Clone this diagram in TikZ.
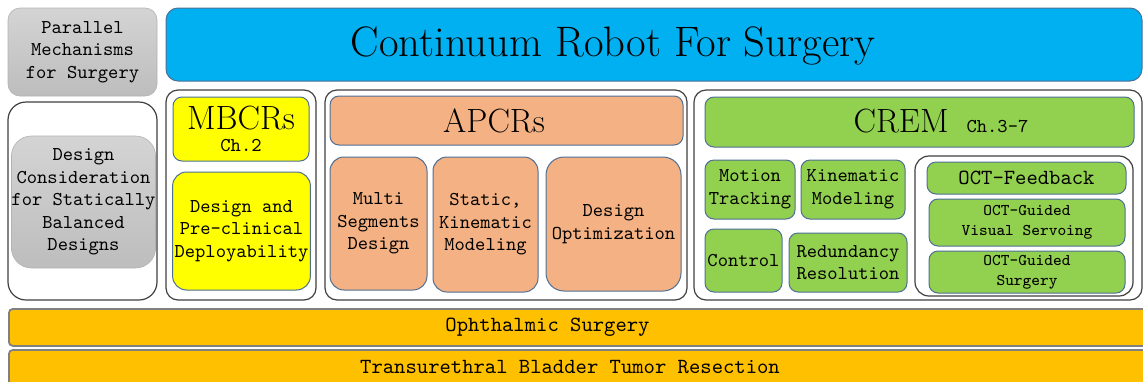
\documentclass[tikz,border=0pt]{standalone}
\usepackage{tikz}

\definecolor{skyblue}{HTML}{00B0F0}
\definecolor{mbyellow}{HTML}{FFFF00}
\definecolor{aporange}{HTML}{F4B183}
\definecolor{crgreen}{HTML}{92D050}
\definecolor{appgold}{HTML}{FFC000}
\definecolor{edgeblue}{HTML}{4E6F94}
\definecolor{framegray}{HTML}{404040}
\definecolor{greytop}{HTML}{D4D4D4}
\definecolor{greybot}{HTML}{BDBDBD}

\newcommand{\ttnorm}{\ttfamily\fontsize{9.8}{11.3}\selectfont}
\newcommand{\ttbar}{\ttfamily\fontsize{10.8}{13}\selectfont}
\newcommand{\ttsmall}{\ttfamily\fontsize{8.2}{10}\selectfont}
\newcommand{\rmbig}{\rmfamily\fontsize{16.8}{18}\selectfont}

\begin{document}
\begin{tikzpicture}[x=0.5pt, y=-0.5pt,
  every node/.style={font=\ttnorm, align=center, inner sep=1pt},
  box/.style={draw=edgeblue, line width=0.5pt, rounded corners=4.5pt},
  frame/.style={draw=framegray, line width=0.6pt, rounded corners=6pt, fill=white},
  greybox/.style={draw=gray!60, line width=0.3pt, top color=greytop, bottom color=greybot},
  bar/.style={draw=gray, line width=0.9pt, rounded corners=2pt, fill=appgold}]

  \useasboundingbox (0,0) rectangle (1143,381);
  \clip (0,0) rectangle (1143,381);

  % top row
  \node[greybox, rounded corners=6pt, minimum width=74.5pt, minimum height=44pt] (par) at (82.5,52) {Parallel\\Mechanisms\\for Surgery};
  \node[box, fill=skyblue, rounded corners=6pt, minimum width=488pt, minimum height=36.5pt] (ttl) at (654,44.5) {};
  \node[font=\rmfamily\fontsize{21.3}{25}\selectfont] (ttltxt) at (613,46) {Continuum Robot For Surgery};

  % left column
  \node[frame, rounded corners=9pt, minimum width=74.5pt, minimum height=99pt] (lfr) at (82.5,201) {};
  \node[greybox, rounded corners=10pt, inner xsep=0pt, minimum width=71pt, minimum height=66pt] (dcs) at (83.5,202) {Design\\Consideration\\for Statically\\Balanced\\Designs};

  % MBCRs
  \node[frame, minimum width=75pt, minimum height=105pt] (mfr) at (241,195) {};
  \node[box, fill=mbyellow, minimum width=68pt, minimum height=32pt] (mbc) at (241,129) {{\rmbig MBCRs}\\Ch.2};
  \node[box, fill=mbyellow, rounded corners=7pt, minimum width=68.5pt, minimum height=59pt] (mdp) at (241.5,231) {Design and\\Pre-clinical\\Deployability};

  % APCRs
  \node[frame, minimum width=181pt, minimum height=105pt] (afr) at (506,195) {};
  \node[box, fill=aporange, minimum width=176.5pt, minimum height=24.5pt] (apc) at (506.5,120.5) {};
  \node[font=\rmbig] (apctxt) at (494,121) {APCRs};
  \node[box, fill=aporange, rounded corners=7pt, minimum width=48.5pt, minimum height=66.5pt] (msd) at (378.5,223.5) {Multi\\Segments\\Design};
  \node[box, fill=aporange, rounded corners=7pt, minimum width=52.5pt, minimum height=67.5pt] (skm) at (485.5,224.5) {Static,\\Kinematic\\Modeling};
  \node[box, fill=aporange, rounded corners=9pt, minimum width=67.5pt, minimum height=67pt] (dop) at (613.5,224) {Design\\Optimization};

  % CREM
  \node[frame, minimum width=224pt, minimum height=105pt] (cfr) at (918,195) {};
  \node[box, fill=crgreen, minimum width=214.5pt, minimum height=25pt] (crm) at (919.5,122) {};
  \node (crmtxt) at (941,121) {{\rmbig CREM}\hspace{9pt}Ch.3-7};
  \node[box, fill=crgreen, minimum width=45pt, minimum height=29.5pt] (mtr) at (750,189.5) {Motion\\Tracking};
  \node[box, fill=crgreen, minimum width=52pt, minimum height=29.5pt] (kmd) at (853,189.5) {Kinematic\\Modeling};
  \node[box, fill=crgreen, minimum width=38.5pt, minimum height=31.5pt] (ctl) at (743.5,260.5) {Control};
  \node[box, fill=crgreen, minimum width=59pt, minimum height=29.5pt] (rdr) at (848,262.5) {Redundancy\\Resolution};

  % OCT group
  \node[frame, rounded corners=7pt, minimum width=109pt, minimum height=70pt] (ofr) at (1024,226) {};
  \node[box, fill=crgreen, font=\ttbar, minimum width=99.5pt, minimum height=16pt] (ofb) at (1026.5,178) {OCT-Feedback};
  \node[box, fill=crgreen, font=\ttsmall, minimum width=98pt, minimum height=23.5pt] (ovs) at (1027,222.5) {OCT-Guided\\Visual Servoing};
  \node[box, fill=crgreen, font=\ttsmall, minimum width=98pt, minimum height=21pt] (osu) at (1027,272) {OCT-Guided\\Surgery};

  % applications
  \node[bar, anchor=north west, minimum width=590pt, minimum height=18.5pt] (oph) at (8,308) {};
  \node[font=\ttbar] (ophtxt) at (547.5,327) {Ophthalmic Surgery};
  \node[bar, anchor=north west, minimum width=590pt, minimum height=25pt] (tur) at (8,349) {};
  \node[font=\ttbar] (turtxt) at (570,367) {Transurethral Bladder Tumor Resection};

\end{tikzpicture}
\end{document}
